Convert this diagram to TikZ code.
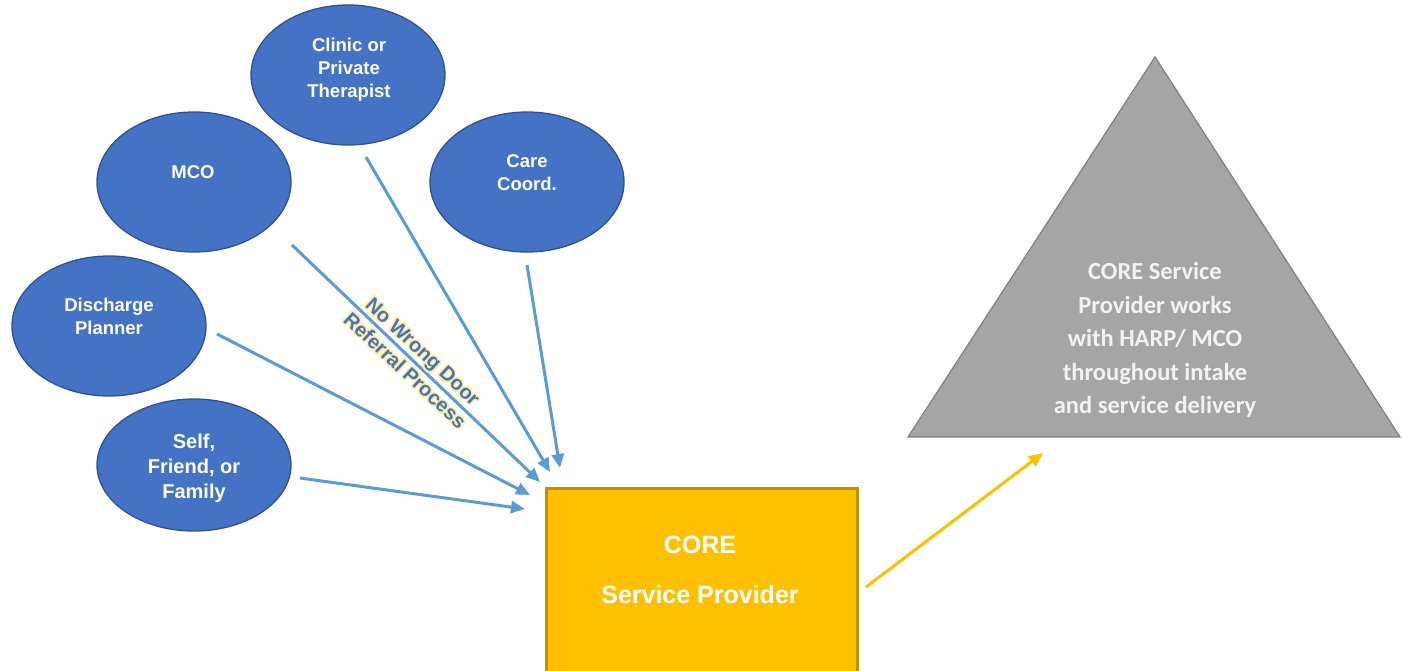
\documentclass[tikz,border=0pt]{standalone}
\usepackage{fontspec}
\setmainfont{Liberation Sans}
\newfontfamily\calibri{Carlito}
\usetikzlibrary{arrows.meta,shapes.geometric}
\definecolor{srcblue}{HTML}{4472C4}
\definecolor{srcedge}{HTML}{2F528F}
\definecolor{linkblue}{HTML}{5B9BD5}
\definecolor{coregold}{HTML}{FFC000}
\definecolor{coreedge}{HTML}{BF9000}
\definecolor{harpgray}{HTML}{A5A5A5}
\definecolor{harpedge}{HTML}{7F7F7F}
\definecolor{harptext}{HTML}{F2F2F2}
\definecolor{glowyellow}{HTML}{FFF0A0}
\definecolor{slogblue}{HTML}{4472C4}

\begin{document}
\begin{tikzpicture}[x=1pt,y=-1pt,
  source/.style={ellipse, draw=srcedge, line width=1.3pt, fill=srcblue,
    inner sep=0pt, minimum width=194pt, minimum height=140pt},
  srctext/.style={text=white, align=center, inner sep=0pt,
    font=\bfseries\fontsize{18.5}{23}\selectfont},
  referral/.style={draw=linkblue, line width=3pt,
    -{Triangle[length=14pt,width=12pt]}},
  corebox/.style={draw=coreedge, line width=2.5pt, fill=coregold,
    inner sep=0pt, anchor=north west},
  coretext/.style={text=white, inner sep=0pt,
    font=\bfseries\fontsize{25}{30}\selectfont},
  harpbox/.style={draw=harpedge, line width=1.2pt, fill=harpgray},
  harplabel/.style={text=harptext, align=center, inner sep=0pt,
    font=\calibri\bfseries\fontsize{24.5}{33.5}\selectfont},
  slogan/.style={align=center, inner sep=0pt, rotate=-43,
    font=\bfseries\fontsize{20}{26}\selectfont},
  handoff/.style={draw=coregold, line width=3pt,
    -{Triangle[length=14pt,width=12pt]}}]

\useasboundingbox (0,0) rectangle (1402,670);
\clip (0,0) rectangle (1402,670);

% referral sources
\node[source] (clinic) at (348,75) {};
\node[srctext] (clinic-label) at (349,70) {Clinic or\\Private\\Therapist};
\node[source] (mco) at (194,182) {};
\node[srctext] (mco-label) at (193,172) {MCO};
\node[source] (care) at (527,182) {};
\node[srctext] (care-label) at (527,173) {Care\\Coord.};
\node[source] (discharge) at (109,326) {};
\node[srctext] (discharge-label) at (109,316) {Discharge\\Planner};
\node[source, minimum height=132pt] (self) at (194,465) {};
\node[srctext, font=\bfseries\fontsize{20}{25}\selectfont] (self-label) at (194,468) {Self,\\Friend, or\\Family};

% CORE service provider box (runs past the lower edge)
\node[corebox, minimum width=311pt, minimum height=200pt] (core) at (545,487) {};
\node[coretext] (core-title) at (700,545) {CORE};
\node[coretext] (core-sub) at (700,595) {Service Provider};

% HARP / MCO triangle
\coordinate (apex) at (1155,57);
\coordinate (base-r) at (1400,437);
\coordinate (base-l) at (908,437);
\draw[harpbox] (apex) -- (base-r) -- (base-l) -- cycle;
\node[harplabel] (harp-label) at (1155,340)
  {CORE Service\\Provider works\\with HARP/ MCO\\throughout intake\\and service delivery};

% arrow end points
\coordinate (clinic-out) at (366,157);
\coordinate (clinic-in) at (550,472);
\coordinate (mco-out) at (292,245);
\coordinate (mco-in) at (540,482);
\coordinate (care-out) at (527,265);
\coordinate (care-in) at (560,468);
\coordinate (discharge-out) at (217,334);
\coordinate (discharge-in) at (530,495);
\coordinate (self-out) at (300,478);
\coordinate (self-in) at (525,509);
\coordinate (core-out) at (866,587);
\coordinate (harp-in) at (1043,453);

\draw[referral] (clinic-out) -- (clinic-in);
\draw[referral] (mco-out) -- (mco-in);
\draw[referral] (care-out) -- (care-in);
\draw[referral] (discharge-out) -- (discharge-in);
\draw[referral] (self-out) -- (self-in);
\draw[handoff] (core-out) -- (harp-in);

% soft yellow halo behind the slogan
\foreach \a [count=\i] in {0,45,...,315}
  \path (414,361) ++(\a:1.8) node[slogan, text=glowyellow] (glow\i)
    {No Wrong Door\\Referral Process};
\node[slogan, text=slogblue] (slogan) at (414,361) {No Wrong Door\\Referral Process};
\end{tikzpicture}
\end{document}
